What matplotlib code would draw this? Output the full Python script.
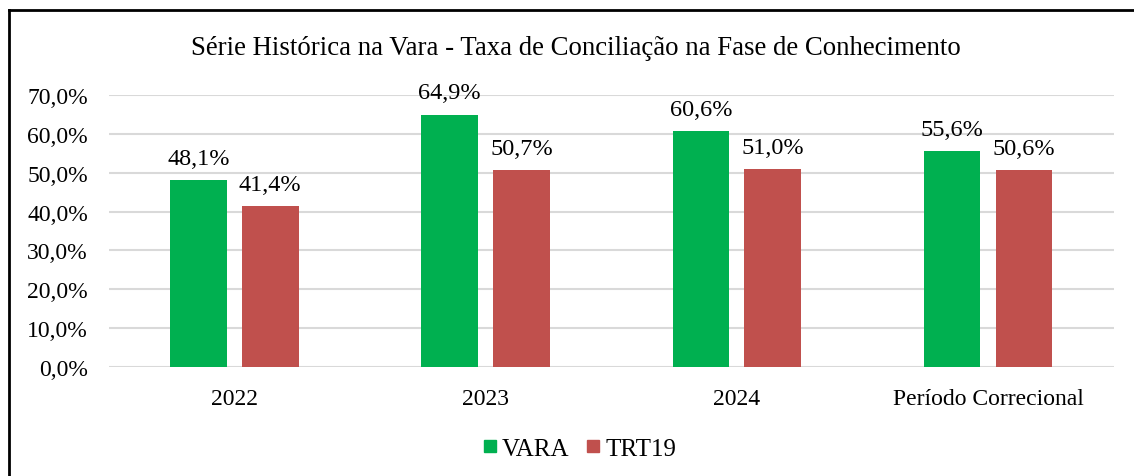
import matplotlib.pyplot as plt
from matplotlib.lines import Line2D
import numpy as np

categories = ["2022", "2023", "2024", "Período Correcional"]
vara = [48.1, 64.9, 60.6, 55.6]
trt19 = [41.4, 50.7, 51.0, 50.6]
series_names = ["VARA", "TRT19"]
yticks = [0, 10, 20, 30, 40, 50, 60, 70]

plt.rcParams['font.family'] = ['Liberation Serif', 'DejaVu Serif']

GREEN = "#00B050"
RED = "#C0504D"

fig = plt.figure(figsize=(11.34, 4.77), dpi=100)
ax = fig.add_axes([0.0959, 0.2279, 0.8862, 0.5715])

x = np.arange(len(categories))
w = 0.2256
off = 0.143
b1 = ax.bar(x - off, vara, w, color=GREEN, zorder=3)
b2 = ax.bar(x + off, trt19, w, color=RED, zorder=3)

for bars, vals in ((b1, vara), (b2, trt19)):
    for rect, v in zip(bars, vals):
        ax.annotate(f"{v:.1f}%".replace(".", ","),
                    (rect.get_x() + rect.get_width() / 2, v),
                    xytext=(0, 8), textcoords="offset points",
                    ha="center", va="bottom", fontsize=17.5)

ax.set_xlim(-0.5, len(categories) - 0.5)
ax.set_ylim(0, 70)
ax.set_yticks(yticks)
ax.set_yticklabels([f"{t:.1f}%".replace(".", ",") for t in yticks], fontsize=17)
ax.set_xticks(x)
ax.set_xticklabels(categories, fontsize=17)
ax.tick_params(axis="both", length=0)
ax.tick_params(axis="y", pad=15)
ax.tick_params(axis="x", pad=15)
ax.grid(axis="y", color="#D9D9D9", linewidth=1.5, zorder=0)
for s in ax.spines.values():
    s.set_visible(False)

fig.text(0.508, 0.899, "Série Histórica na Vara - Taxa de Conciliação na Fase de Conhecimento",
         ha="center", va="center", fontsize=19.3)

handles = [Line2D([], [], marker="s", linestyle="none", markersize=9, color=GREEN),
           Line2D([], [], marker="s", linestyle="none", markersize=9, color=RED)]
fig.legend(handles, series_names, loc="center", bbox_to_anchor=(0.511, 0.057),
           ncol=2, frameon=False, fontsize=18, handlelength=0.55, handletextpad=0.2,
           columnspacing=0.7)

# border (top and left visible in the reference crop)
fig.add_artist(Line2D([0.0075, 1.0], [0.977, 0.977], transform=fig.transFigure, color="black", linewidth=2))
fig.add_artist(Line2D([0.0075, 0.0075], [0.0, 0.977], transform=fig.transFigure, color="black", linewidth=2))

fig.savefig("out.png", dpi=100)
